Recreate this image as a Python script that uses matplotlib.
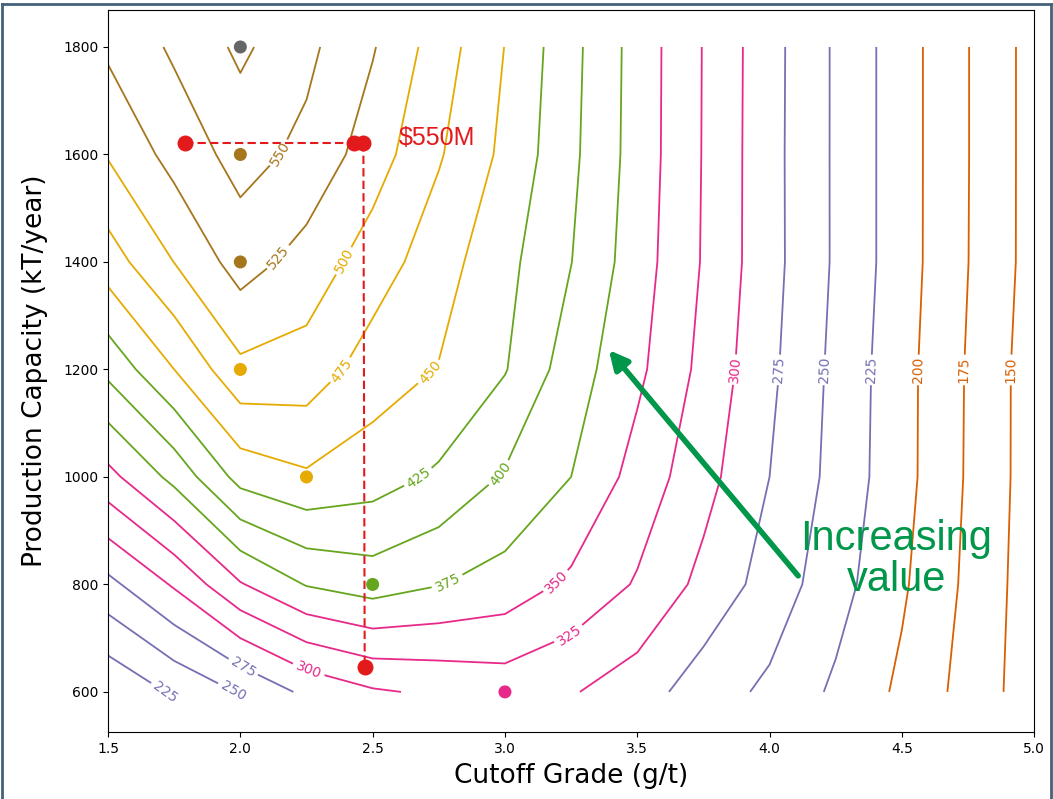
#!/usr/bin/env python3
"""Contour map of project value vs cutoff grade and production capacity."""

import numpy as np
import matplotlib
matplotlib.use("Agg")
import matplotlib.pyplot as plt
from matplotlib.lines import Line2D

# Grid of the study
cutoff_grade = [1.5, 1.75, 2.0, 2.25, 2.5, 2.75, 3.0, 3.25, 3.5, 3.75,
                4.0, 4.25, 4.5, 4.75, 5.0]
capacity = [600, 800, 1000, 1200, 1400, 1600, 1800]

# Project value ($M), one row per capacity
value_600 = [203, 228.5, 252, 280.7, 297, 304, 310.6, 302, 287, 262,
             245, 220.6, 195.1, 165.9, 136.3]
value_800 = [268, 303, 348, 376.5, 387, 376, 365, 345, 322.5, 293,
             264.7, 235, 203.6, 170, 136.4]
value_1000 = [342.3, 382.4, 434, 446.5, 436.3, 421, 397.5, 375, 340.5, 309,
              275, 242, 208.6, 172.4, 137.6]
value_1200 = [406.8, 450, 494, 489.6, 463.2, 449, 426.5, 387.2, 355.6, 318,
              280.4, 243.7, 208.8, 172.9, 137.5]
value_1400 = [463, 500.4, 536, 515, 488, 461, 432.4, 400.5, 361.8, 323,
              283.6, 246.6, 211.4, 175.3, 140.3]
value_1600 = [502, 534, 559.3, 543.8, 512.2, 477.5, 444.3, 405.5, 364.6, 323.7,
              283.4, 246.6, 211.4, 175.6, 140.3]
value_1800 = [529.5, 554, 580, 556, 527, 488, 449.5, 407.6, 365, 324,
              283.8, 246.6, 211.4, 175.6, 140.3]

levels = [150, 175, 200, 225, 250, 275, 300, 325, 350, 375, 400, 425,
          450, 475, 500, 525, 550, 575]

# Best cutoff for each capacity
best_grade = [2.0, 2.0, 2.0, 2.0, 2.25, 2.5, 3.0]
best_capacity = [1800, 1600, 1400, 1200, 1000, 800, 600]
best_colors = ["#666666", "#a6761d", "#a6761d", "#e6ab02", "#e6ab02",
               "#66a61e", "#e7298a"]

# The $550M example
example_grade = [1.79, 2.43, 2.465, 2.47]
example_capacity = [1621, 1621, 1621, 647]

# Where the contour labels sit
label_spots = [(2.16, 1600), (2.17, 1400), (2.40, 1400), (2.38, 1199),
               (2.74, 1184), (2.68, 994), (3.01, 998), (2.79, 799),
               (3.20, 803), (3.25, 700), (2.26, 645), (2.01, 646),
               (1.97, 600), (1.73, 600), (3.88, 1199), (4.04, 1199),
               (4.21, 1199), (4.39, 1199), (4.56, 1199), (4.74, 1199),
               (4.92, 1199)]

group_colors = ["#d95f02", "#7570b3", "#e7298a", "#66a61e", "#e6ab02", "#a6761d"]
line_colors = [c for c in group_colors for _ in range(3)]

X, Y = np.meshgrid(cutoff_grade, capacity)
Z = np.array([value_600, value_800, value_1000, value_1200,
              value_1400, value_1600, value_1800])

fig = plt.figure(figsize=(10.53, 7.99), dpi=100)
ax = fig.add_axes([0.1026, 0.084, 0.8795, 0.9035])

cs = ax.contour(X, Y, Z, levels=levels, colors=line_colors, linewidths=1.3)
ax.clabel(cs, fmt="%d", fontsize=10, manual=label_spots, inline_spacing=4)

ax.scatter(best_grade, best_capacity, s=70, c=best_colors, zorder=3)

# Red example lines and dots
red = "#e31a1c"
ax.plot(example_grade[:2], example_capacity[:2], color=red, lw=1.5,
        ls=(0, (4, 2)))
ax.plot(example_grade[2:], example_capacity[2:], color=red, lw=1.5,
        ls=(0, (4, 2)))
ax.scatter(example_grade, example_capacity, s=110, color=red, zorder=4)
ax.text(2.6, 1630, "$550M", color=red, fontsize=18,
        family="Liberation Sans", va="center")

# Arrow and note
green = "#00974a"
ax.annotate("", xy=(3.386, 1240), xytext=(4.115, 812),
            arrowprops=dict(arrowstyle="-|>", color=green, lw=4,
                            mutation_scale=28))
ax.text(4.48, 846, "Increasing\nvalue", color=green, fontsize=30,
        family="Liberation Sans", ha="center", va="center", linespacing=1.05)

ax.set_xlim(1.5, 5.0)
ax.set_ylim(525.6, 1868.8)
ax.set_xticks(np.arange(1.5, 5.01, 0.5))
ax.set_yticks(np.arange(600, 1801, 200))
ax.tick_params(labelsize=10)
ax.set_xlabel("Cutoff Grade (g/t)", fontsize=19, labelpad=5)
ax.set_ylabel("Production Capacity (kT/year)", fontsize=19, labelpad=11)

# Slide frame around the screenshot
frame = "#44617b"
fig.add_artist(Line2D([0.002, 0.002], [0, 0.995], color=frame, lw=2,
                      transform=fig.transFigure))
fig.add_artist(Line2D([0.002, 0.998], [0.995, 0.995], color=frame, lw=2,
                      transform=fig.transFigure))
fig.add_artist(Line2D([0.998, 0.998], [0, 0.995], color=frame, lw=2,
                      transform=fig.transFigure))

fig.savefig("out.png", dpi=100)
